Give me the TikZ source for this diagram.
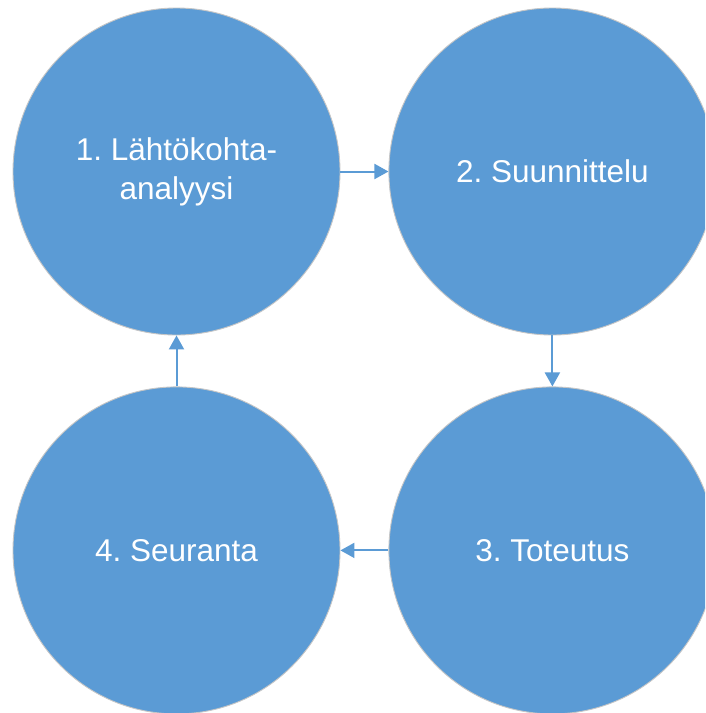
\documentclass[tikz,border=0pt]{standalone}
\usepackage{fontspec}
\setmainfont{Liberation Sans}
\usepackage{tikz}
\usetikzlibrary{positioning,arrows.meta}
\definecolor{phaseblue}{HTML}{5B9BD5}
\frenchspacing
\tikzset{
  phase/.style={circle,draw=gray!45,line width=0.9pt,fill=phaseblue,
               minimum size=327pt,inner sep=0pt,align=center,text=white,
               font=\fontsize{31.5}{39}\selectfont},
  flow/.style={-{Triangle[length=14pt,width=15pt]},line width=2pt,phaseblue},
}
\begin{document}
\begin{tikzpicture}[x=1pt,y=1pt,node distance=48pt and 48pt]
  \clip (0,0) rectangle (705,-713);
  \fill[white] (0,0) rectangle (705,-713);
  \node[phase] (start) at (176.5,-171.5) {1. Lähtökohta-\\analyysi};
  \node[phase,right=48pt of start] (plan) {2. Suunnittelu};
  \node[phase,below=51pt of plan] (impl) {3. Toteutus};
  \node[phase,left=48pt of impl] (follow) {4. Seuranta};
  % the cycle between the four phases
  \draw[flow] (start.east) -- (plan.west);
  \draw[flow] (plan.south) -- (impl.north);
  \draw[flow] (impl.west) -- (follow.east);
  \draw[flow] (follow.north) -- (start.south);
\end{tikzpicture}
\end{document}
